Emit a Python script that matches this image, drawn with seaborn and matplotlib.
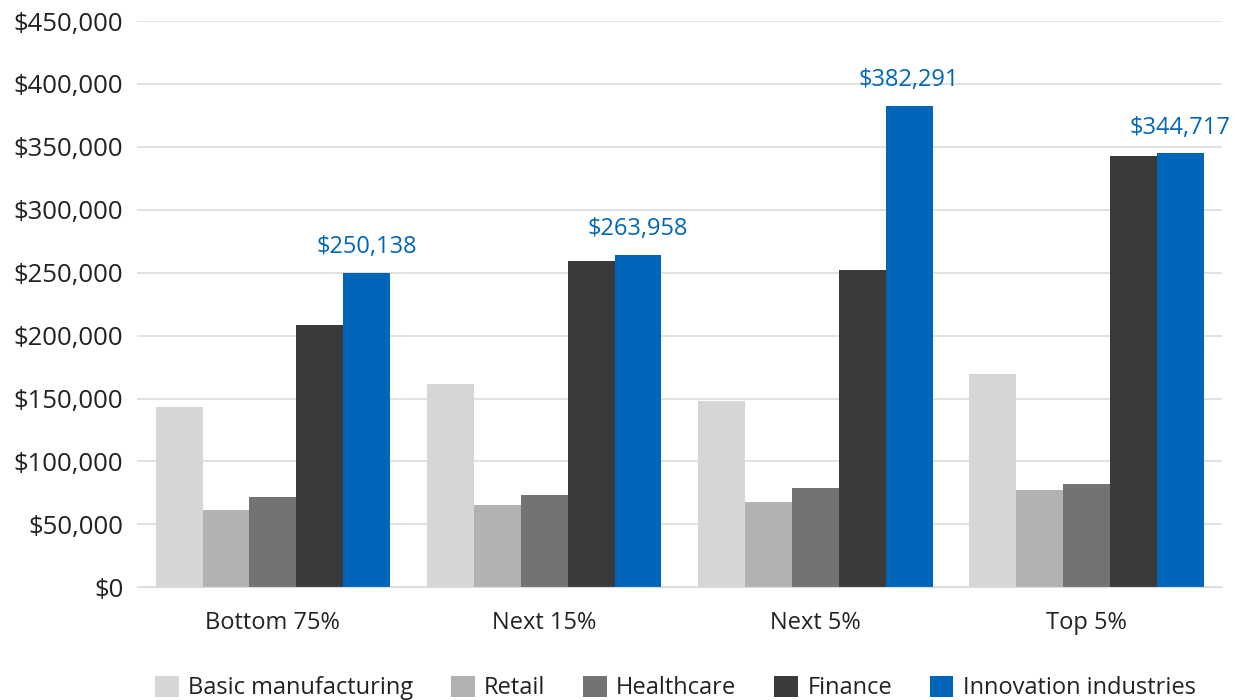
import pandas as pd
import matplotlib.pyplot as plt
import seaborn as sns
from matplotlib.ticker import FuncFormatter

groups = ['Bottom 75%', 'Next 15%', 'Next 5%', 'Top 5%']
industries = ['Basic manufacturing', 'Retail', 'Healthcare', 'Finance', 'Innovation industries']

basic_mfg = [143300, 161400, 147900, 169300]
retail = [61200, 65200, 67600, 77100]
healthcare = [71800, 73100, 78700, 81900]
finance = [208300, 259000, 252000, 342600]
innovation = [250138, 263958, 382291, 344717]

colors = ['#D6D6D6', '#B2B2B2', '#737373', '#3A3A3A', '#0066B9']

rows = []
for name, vals in zip(industries, [basic_mfg, retail, healthcare, finance, innovation]):
    for g, v in zip(groups, vals):
        rows.append({'Group': g, 'Industry': name, 'Value': v})
df = pd.DataFrame(rows)

sns.set_style("white")
plt.rcParams['font.family'] = ['Open Sans', 'DejaVu Sans']

fig = plt.figure(figsize=(12.37, 7), dpi=100)
ax = fig.add_axes([0.111, 0.161, 0.877, 0.809])

sns.barplot(data=df, x='Group', y='Value', hue='Industry', order=groups,
            hue_order=industries, palette=colors, width=0.865, gap=0,
            saturation=1, errorbar=None, linewidth=0, ax=ax, legend=True)

ax.set_ylim(0, 450000)
ax.set_yticks(range(0, 450001, 50000))
ax.yaxis.set_major_formatter(FuncFormatter(lambda v, p: f'${v:,.0f}'))
ax.grid(axis='y', color='#DCDCDC', linewidth=1.2)
ax.set_axisbelow(True)
for s in ['top', 'right', 'left']:
    ax.spines[s].set_visible(False)
ax.spines['bottom'].set_color('#DCDCDC')
ax.tick_params(axis='y', labelsize=18.5, colors='#222222', length=0, pad=10)
ax.tick_params(axis='x', labelsize=17, colors='#222222', length=0, pad=17)
ax.set_xlabel('')
ax.set_ylabel('')
ax.set_xlim(-0.5, 3.5)

# value labels on the innovation bars
inno_bars = ax.containers[-1]
for bar, v in zip(inno_bars, innovation):
    ax.annotate(f'${v:,.0f}', (bar.get_x() + bar.get_width() / 2, bar.get_height()),
                xytext=(0, 10), textcoords='offset points', ha='center', va='bottom',
                fontsize=17, color='#0066B9')

handles, labels = ax.get_legend_handles_labels()
ax.get_legend().remove()
fig.legend(handles, labels, loc='lower center', bbox_to_anchor=(0.546, -0.031),
           ncol=5, frameon=False, fontsize=17, handlelength=1.0, handleheight=1.0,
           handletextpad=0.4, columnspacing=1.6, labelcolor='#222222')

fig.savefig('out.png', dpi=100)
